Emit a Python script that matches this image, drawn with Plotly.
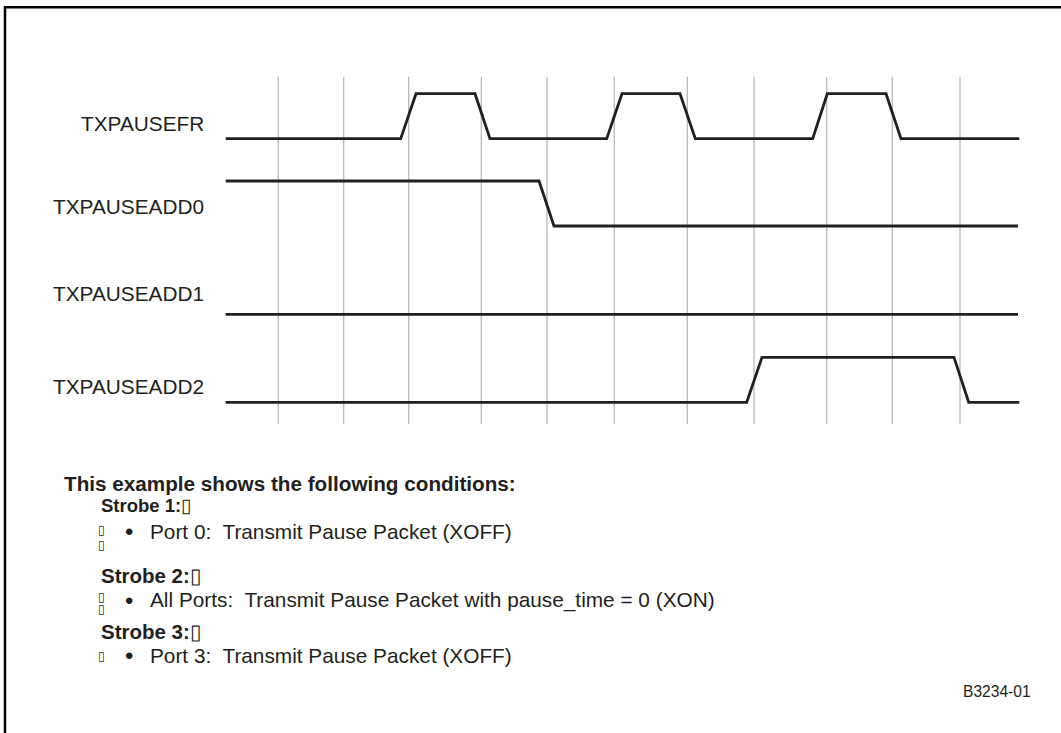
import plotly.graph_objects as go

# ---------------- data (time axis units ~) ----------------
signal_names = ["TXPAUSEFR", "TXPAUSEADD0", "TXPAUSEADD1", "TXPAUSEADD2"]
lane_low = [138.7, 226.0, 314.3, 402.3]      # baseline (low level) of each lane
level_height = 45.0                           # height of a high level

fr_t = [225.7, 400.7, 416.0, 475.0, 490.0, 606.7, 622.0, 680.0, 695.3, 812.7, 827.3, 886.0, 901.0, 1019.3]
fr_v = [0, 0, 1, 1, 0, 0, 1, 1, 0, 0, 1, 1, 0, 0]
add0_t = [225.7, 539.0, 554.0, 1018.0]
add0_v = [1, 1, 0, 0]
add1_t = [225.7, 1018.0]
add1_v = [0, 0]
add2_t = [225.7, 746.7, 762.0, 954.0, 968.7, 1019.3]
add2_v = [0, 0, 1, 1, 0, 0]

signal_times = [fr_t, add0_t, add1_t, add2_t]
signal_levels = [fr_v, add0_v, add1_v, add2_v]

clock_edges = [278.3, 343.7, 408.7, 481.3, 547.0, 614.3, 687.3, 754.0, 826.7, 892.3, 960.0]
grid_top, grid_bottom = 76.7, 424.0

heading = "This example shows the following conditions:"
strobe_titles = ["Strobe 1:", "Strobe 2:", "Strobe 3:"]
strobe_items = [
    "Port 0:  Transmit Pause Packet (XOFF)",
    "All Ports:  Transmit Pause Packet with pause_time = 0 (XON)",
    "Port 3:  Transmit Pause Packet (XOFF)",
]
figure_id = "B3234-01"

# ---------------- figure ----------------
W, H = 1061, 733
INK = "#231f20"
FONT = "Liberation Sans, Arial, Helvetica, sans-serif"

fig = go.Figure()

# grid (clock edges)
gx, gy = [], []
for t in clock_edges:
    gx += [t, t, None]
    gy += [grid_top, grid_bottom, None]
fig.add_trace(go.Scatter(x=gx, y=gy, mode="lines",
                         line=dict(color="#b3bac0", width=1.3),
                         hoverinfo="skip", showlegend=False))

# signals
for name, ts, vs, base in zip(signal_names, signal_times, signal_levels, lane_low):
    ys = [base - v * level_height for v in vs]
    fig.add_trace(go.Scatter(x=ts, y=ys, mode="lines", name=name,
                             line=dict(color=INK, width=2.8),
                             showlegend=False))

annotations = []
label_y = [123.3, 206.7, 293.3, 386.0]
for name, yy in zip(signal_names, label_y):
    annotations.append(dict(x=206, y=yy, text=name, showarrow=False,
                            xanchor="right", yanchor="middle",
                            font=dict(family=FONT, size=20.8, color=INK)))

annotations.append(dict(x=62, y=483, text="<b>" + heading + "</b>", showarrow=False,
                        xanchor="left", yanchor="middle",
                        font=dict(family=FONT, size=20.7, color=INK)))

strobe_y = [505, 575, 631]
item_y = [531.5, 600, 655.5]
strobe_sizes = [18.5, 20.5, 20.5]
for title, item, sy, iy, ss in zip(strobe_titles, strobe_items, strobe_y, item_y, strobe_sizes):
    annotations.append(dict(x=99, y=sy, text="<b>" + title + "</b>\u25af", showarrow=False,
                            xanchor="left", yanchor="middle",
                            font=dict(family=FONT, size=ss, color=INK)))
    annotations.append(dict(x=129, y=iy, text="\u2022", showarrow=False,
                            xanchor="center", yanchor="middle",
                            font=dict(family=FONT, size=24, color=INK)))
    annotations.append(dict(x=148, y=iy, text=item, showarrow=False,
                            xanchor="left", yanchor="middle",
                            font=dict(family=FONT, size=20.8, color=INK)))

# stray placeholder glyphs left of the bullets
tofu_pos = [(101, 530), (101, 545), (101, 597), (101, 609), (101, 656)]
for tx, ty in tofu_pos:
    annotations.append(dict(x=tx, y=ty, text="\u25af", showarrow=False,
                            xanchor="center", yanchor="middle",
                            font=dict(family="DejaVu Sans", size=12, color=INK)))

annotations.append(dict(x=1033, y=691.7, text=figure_id, showarrow=False,
                        xanchor="right", yanchor="middle",
                        font=dict(family=FONT, size=15.6, color=INK)))

# frame (top and left edges of the border)
shapes = [
    dict(type="line", xref="paper", yref="paper", x0=5 / W, x1=1.0,
         y0=1 - 7.3 / H, y1=1 - 7.3 / H, line=dict(color="#000000", width=2.5)),
    dict(type="line", xref="paper", yref="paper", x0=5 / W, x1=5 / W,
         y0=1 - 6.1 / H, y1=0.0, line=dict(color="#000000", width=2.5)),
]

fig.update_layout(
    width=W, height=H,
    margin=dict(l=0, r=0, t=0, b=0),
    paper_bgcolor="white", plot_bgcolor="white",
    xaxis=dict(range=[0, W], visible=False, fixedrange=True),
    yaxis=dict(range=[H, 0], visible=False, fixedrange=True),
    annotations=annotations, shapes=shapes,
    showlegend=False,
)

fig.write_html("out.html", config={"displayModeBar": False},
               post_script="document.body.style.margin='0';document.body.style.overflow='hidden';")
